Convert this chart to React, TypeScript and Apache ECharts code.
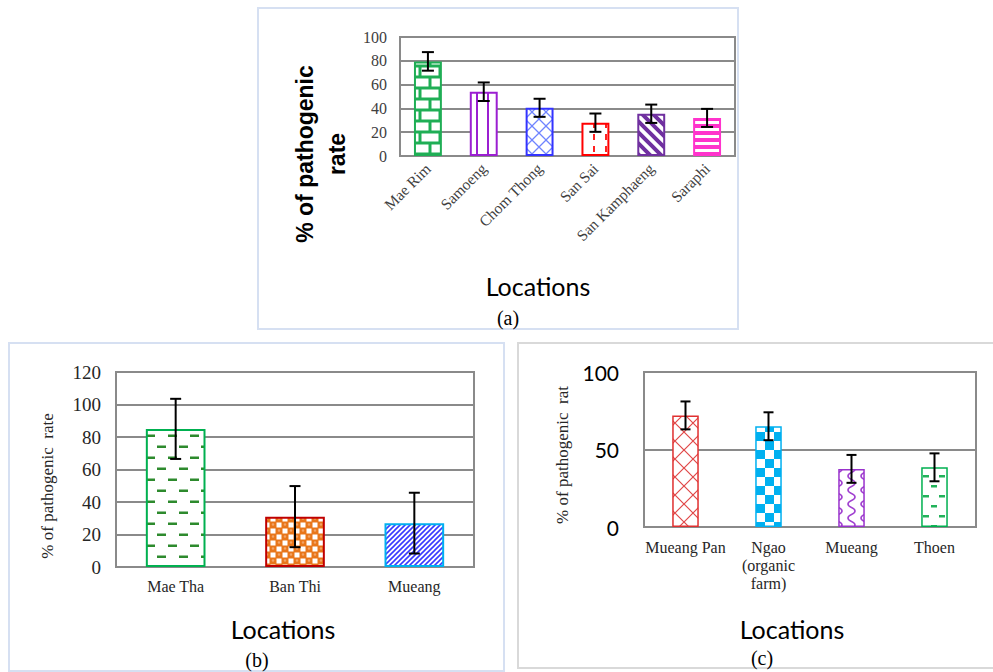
import React, { useEffect, useRef } from "react";
import * as echarts from "echarts";

// ---------- data ----------
const catsA = ["Mae Rim", "Samoeng", "Chom Thong", "San Sai", "San Kamphaeng", "Saraphi"];
const meansA = [79.5, 54, 40.5, 28, 35.5, 32];
const errsA = [7.8, 7.8, 7.6, 7.7, 7.7, 7.6];

const catsB = ["Mae Tha", "Ban Thi", "Mueang"];
const meansB = [85, 31, 27];
const errsB = [18.5, 18.8, 18.7];

const catsC = ["Mueang Pan", "Ngao\n(organic\nfarm)", "Mueang", "Thoen"];
const meansC = [72, 65, 37.5, 38.5];
const errsC = [9, 9, 9, 9];

const yTicksA = { min: 0, max: 100, interval: 20 };
const yTicksB = { min: 0, max: 120, interval: 20 };
const yTicksC = { min: 0, max: 100, interval: 50 };

// ---------- styles ----------
const SERIF = "'Liberation Serif', 'Times New Roman', serif";
const SANS = "Lato, 'Noto Sans', sans-serif";

type Draw = (ctx: CanvasRenderingContext2D, w: number, h: number) => void;
function pat(w: number, h: number, draw: Draw) {
  const c = document.createElement("canvas");
  c.width = w;
  c.height = h;
  const ctx = c.getContext("2d") as CanvasRenderingContext2D;
  draw(ctx, w, h);
  return { image: c, repeat: "repeat" } as any;
}

function makePatterns() {
  const brick = pat(20, 22, (ctx) => {
    ctx.fillStyle = "#1fae55";
    ctx.fillRect(0, 0, 20, 22);
    ctx.fillStyle = "#ffffff";
    ctx.fillRect(1.5, 1.5, 17, 8);
    ctx.fillRect(-8.5, 12.5, 17, 8);
    ctx.fillRect(11.5, 12.5, 17, 8);
  });
  const vlines = pat(11, 10, (ctx) => {
    ctx.fillStyle = "#fff";
    ctx.fillRect(0, 0, 11, 10);
    ctx.fillStyle = "#9b1fd1";
    ctx.fillRect(3, 0, 2, 10);
  });
  const lattice = (size: number, color: string, lw: number) =>
    pat(size, size, (ctx) => {
      ctx.fillStyle = "#fff";
      ctx.fillRect(0, 0, size, size);
      ctx.strokeStyle = color;
      ctx.lineWidth = lw;
      ctx.beginPath();
      ctx.moveTo(0, 0);
      ctx.lineTo(size, size);
      ctx.moveTo(size, 0);
      ctx.lineTo(0, size);
      ctx.stroke();
    });
  const redDash = pat(12, 12, (ctx) => {
    ctx.fillStyle = "#fff";
    ctx.fillRect(0, 0, 12, 12);
    ctx.fillStyle = "#ff2020";
    ctx.fillRect(5, 2, 2, 6);
  });
  const bigDiag = pat(11, 11, (ctx) => {
    ctx.fillStyle = "#fff";
    ctx.fillRect(0, 0, 11, 11);
    ctx.strokeStyle = "#7030a0";
    ctx.lineWidth = 4;
    ctx.beginPath();
    for (const o of [-11, 0, 11]) {
      ctx.moveTo(o - 2, -2);
      ctx.lineTo(o + 13, 13);
    }
    ctx.stroke();
  });
  const hbands = pat(6, 7, (ctx) => {
    ctx.fillStyle = "#ff33cc";
    ctx.fillRect(0, 0, 6, 7);
    ctx.fillStyle = "#fff";
    ctx.fillRect(0, 2, 6, 3);
  });
  const dashes = (w: number, h: number, color: string, dw: number, dh: number) =>
    pat(w, h, (ctx) => {
      ctx.fillStyle = "#fff";
      ctx.fillRect(0, 0, w, h);
      ctx.fillStyle = color;
      ctx.fillRect(3, h / 4, dw, dh);
      ctx.fillRect(3 + w / 2, (3 * h) / 4, dw, dh);
      ctx.fillRect(3 - w / 2, (3 * h) / 4, dw, dh);
    });
  const circles = pat(12, 12, (ctx) => {
    ctx.fillStyle = "#e8761a";
    ctx.fillRect(0, 0, 12, 12);
    ctx.fillStyle = "#fff";
    ctx.fillRect(6.5, 0.5, 5, 5);
    ctx.fillRect(0.5, 6.5, 5, 5);
    ctx.fillStyle = "#f2a366";
    ctx.beginPath();
    ctx.arc(3, 2.5, 1.3, 0, Math.PI * 2);
    ctx.arc(9, 8.5, 1.3, 0, Math.PI * 2);
    ctx.fill();
  });
  const thinDiag = pat(5, 5, (ctx) => {
    ctx.fillStyle = "#fff";
    ctx.fillRect(0, 0, 5, 5);
    ctx.strokeStyle = "#3a3aff";
    ctx.lineWidth = 1.6;
    ctx.beginPath();
    ctx.moveTo(-1, 6);
    ctx.lineTo(6, -1);
    ctx.moveTo(-1, 1);
    ctx.lineTo(1, -1);
    ctx.moveTo(4, 6);
    ctx.lineTo(6, 4);
    ctx.stroke();
  });
  const checker = pat(18, 18, (ctx) => {
    ctx.fillStyle = "#fff";
    ctx.fillRect(0, 0, 18, 18);
    ctx.fillStyle = "#00b0f0";
    ctx.fillRect(0, 0, 9, 9);
    ctx.fillRect(9, 9, 9, 9);
  });
  const wave = pat(13, 14, (ctx) => {
    ctx.fillStyle = "#fff";
    ctx.fillRect(0, 0, 13, 14);
    ctx.strokeStyle = "#a040d0";
    ctx.lineWidth = 1.6;
    ctx.beginPath();
    ctx.moveTo(3, 0);
    ctx.bezierCurveTo(3, 4, 10, 3, 10, 7);
    ctx.bezierCurveTo(10, 11, 3, 10, 3, 14);
    ctx.stroke();
  });
  return {
    A: [brick, vlines, lattice(14, "#6f84ff", 1.3), redDash, bigDiag, hbands],
    B: [dashes(22, 22, "#2d8a2d", 9, 2.5), circles, thinDiag],
    C: [lattice(18, "#e04848", 1.2), checker, wave, dashes(16, 20, "#22b25a", 6, 2.5)],
  };
}

const bordersA = ["#1fae55", "#9b1fd1", "#3333ff", "#ff0000", "#7030a0", "#ff33cc"];
const bordersB = ["#00b050", "#c00000", "#00b0f0"];
const bordersC = ["#e03030", "#00b0f0", "#9933cc", "#00b050"];

const GRID_COLOR = "#8a8a8a";

function errSeries(idx: number, means: number[], errs: number[], cap: number) {
  return {
    type: "custom",
    xAxisIndex: idx,
    yAxisIndex: idx,
    z: 10,
    data: means.map((m, i) => [i, m - errs[i], m + errs[i]]),
    encode: { x: 0, y: [1, 2] },
    renderItem: (_p: any, api: any) => {
      const x = api.value(0);
      const lo = api.coord([x, api.value(1)]);
      const hi = api.coord([x, api.value(2)]);
      const hw = cap / 2;
      const st = { stroke: "#000", lineWidth: 2 };
      return {
        type: "group",
        children: [
          { type: "line", shape: { x1: hi[0], y1: hi[1], x2: lo[0], y2: lo[1] }, style: st },
          { type: "line", shape: { x1: hi[0] - hw, y1: hi[1], x2: hi[0] + hw, y2: hi[1] }, style: st },
          { type: "line", shape: { x1: lo[0] - hw, y1: lo[1], x2: lo[0] + hw, y2: lo[1] }, style: st },
        ],
      };
    },
  };
}

function barSeries(idx: number, means: number[], fills: any[], borders: string[], width: string, bw: number) {
  return {
    type: "bar",
    xAxisIndex: idx,
    yAxisIndex: idx,
    barWidth: width,
    data: means.map((m, i) => ({
      value: m,
      itemStyle: { color: fills[i], borderColor: borders[i], borderWidth: bw },
    })),
  };
}

function txt(text: string, x: number, y: number, font: string, size: number, extra: any = {}) {
  return {
    type: "text",
    x,
    y,
    rotation: extra.rotation || 0,
    z: 20,
    style: {
      text,
      fontFamily: font,
      fontSize: size,
      fontWeight: extra.bold ? "bold" : "normal",
      lineHeight: extra.lineHeight,
      fill: extra.color || "#000",
      textAlign: "center",
      textVerticalAlign: "middle",
      align: "center",
      verticalAlign: "middle",
    },
  };
}

function panelRect(x: number, y: number, w: number, h: number, color: string) {
  return {
    type: "rect",
    shape: { x, y, width: w, height: h },
    z: 0,
    style: { fill: "none", stroke: color, lineWidth: 2 },
  };
}

export default function App() {
  const ref = useRef<HTMLDivElement>(null);
  useEffect(() => {
    if (!ref.current) return;
    const chart = echarts.init(ref.current, undefined, { renderer: "svg" });
    const P = makePatterns();
    const gridCommon = { show: true, borderColor: GRID_COLOR, borderWidth: 2, backgroundColor: "transparent" };
    const splitLine = { show: true, lineStyle: { color: GRID_COLOR, width: 2 } };
    const option: any = {
      animation: false,
      backgroundColor: "#ffffff",
      grid: [
        { ...gridCommon, left: 400, top: 37, width: 335, height: 119 },
        { ...gridCommon, left: 116, top: 372, width: 358, height: 195 },
        { ...gridCommon, left: 644, top: 372, width: 332, height: 155 },
      ],
      xAxis: [
        {
          type: "category",
          gridIndex: 0,
          data: catsA,
          axisTick: { show: false },
          axisLine: { show: false },
          axisLabel: { rotate: 45, fontFamily: SERIF, fontSize: 15.5, color: "#404040", margin: 10, interval: 0 },
        },
        {
          type: "category",
          gridIndex: 1,
          data: catsB,
          axisTick: { show: false },
          axisLine: { show: false },
          axisLabel: { fontFamily: SERIF, fontSize: 16, color: "#262626", margin: 11, interval: 0 },
        },
        {
          type: "category",
          gridIndex: 2,
          data: catsC,
          axisTick: { show: false },
          axisLine: { show: false },
          axisLabel: { fontFamily: SERIF, fontSize: 16, lineHeight: 18, color: "#262626", margin: 11, interval: 0 },
        },
      ],
      yAxis: [
        {
          type: "value",
          gridIndex: 0,
          ...yTicksA,
          splitLine,
          axisLine: { show: false },
          axisTick: { show: false },
          axisLabel: { fontFamily: SERIF, fontSize: 16, color: "#404040", margin: 13 },
        },
        {
          type: "value",
          gridIndex: 1,
          ...yTicksB,
          splitLine,
          axisLine: { show: false },
          axisTick: { show: false },
          axisLabel: { fontFamily: SERIF, fontSize: 19, color: "#262626", margin: 15 },
        },
        {
          type: "value",
          gridIndex: 2,
          ...yTicksC,
          splitLine,
          axisLine: { show: false },
          axisTick: { show: false },
          axisLabel: { fontFamily: SANS, fontSize: 21, color: "#000", margin: 25 },
        },
      ],
      series: [
        barSeries(0, meansA, P.A, bordersA, "50%", 2),
        barSeries(1, meansB, P.B, bordersB, "50%", 2),
        barSeries(2, meansC, P.C, bordersC, "32%", 1.5),
        errSeries(0, meansA, errsA, 12),
        errSeries(1, meansB, errsB, 11),
        errSeries(2, meansC, errsC, 10),
      ],
      graphic: [
        panelRect(258, 8, 480, 321, "#d6e0f2"),
        panelRect(9, 343, 495, 328, "#d6e0f2"),
        panelRect(518, 343, 480, 325, "#d9d9d9"),
        txt("% of pathogenic\nrate", 321, 154, "'Liberation Sans', Arial, sans-serif", 23, {
          bold: true,
          lineHeight: 32,
          rotation: Math.PI / 2,
        }),
        txt("Locations", 538, 286, SANS, 25),
        txt("(a)", 508, 318, SERIF, 20),
        txt("% of pathogenic  rate", 47, 486, SERIF, 17, { rotation: Math.PI / 2, color: "#262626" }),
        txt("Locations", 283, 629, SANS, 25),
        txt("(b)", 257, 660, SERIF, 20),
        txt("% of pathogenic  rat", 562, 455, SERIF, 17, { rotation: Math.PI / 2, color: "#262626" }),
        txt("Locations", 792, 629, SANS, 25),
        txt("(c)", 762, 658, SERIF, 20),
      ],
    };
    chart.setOption(option);
    return () => chart.dispose();
  }, []);
  return (
    <div
      ref={ref}
      style={{ position: "absolute", left: 0, top: 0, width: 993, height: 672, background: "#fff" }}
    />
  );
}
